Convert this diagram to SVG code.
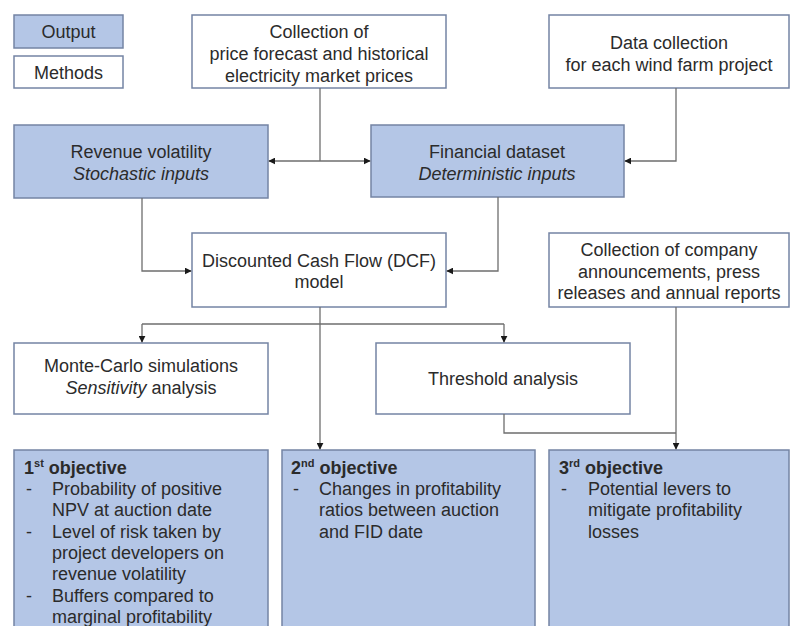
<svg xmlns="http://www.w3.org/2000/svg" width="790" height="626" viewBox="0 0 790 626">
<defs>
<style>
.out{fill:#b4c6e6;stroke:#7484a4;stroke-width:1.5}
.met{fill:#ffffff;stroke:#7484a4;stroke-width:1.5}
text{font-family:"Liberation Sans",Arial,sans-serif;font-size:18px;fill:#2b2b2b}
.c{text-anchor:middle}
.b{font-weight:bold}
.conn{fill:none;stroke:#6e6e6e;stroke-width:1.3}
</style>
<marker id="ah" viewBox="0 0 10 10" refX="9" refY="5" markerWidth="7" markerHeight="7" orient="auto" markerUnits="userSpaceOnUse">
<path d="M0,0 L10,5 L0,10 z" fill="#1a1a1a"/>
</marker>
</defs>
<rect width="790" height="626" fill="#ffffff"/>
<g id="legend-output"><rect class="out" x="14" y="15" width="109" height="33"/><text class="c" x="68.5" y="38">Output</text></g>
<g id="legend-methods"><rect class="met" x="14" y="56" width="109" height="32"/><text class="c" x="68.5" y="79">Methods</text></g>
<g id="price-collection"><rect class="met" x="192" y="15" width="254" height="73"/><text class="c" x="319" y="38">Collection of</text><text class="c" x="319" y="60">price forecast and historical</text><text class="c" x="319" y="82">electricity market prices</text></g>
<g id="data-collection"><rect class="met" x="549" y="15" width="240" height="73"/><text class="c" x="669" y="49">Data collection</text><text class="c" x="669" y="71">for each wind farm project</text></g>
<g id="revenue-volatility"><rect class="out" x="14" y="125" width="254" height="73"/><text class="c" x="141" y="158">Revenue volatility</text><text class="c" x="141" y="180" font-style="italic">Stochastic inputs</text></g>
<g id="financial-dataset"><rect class="out" x="371" y="125" width="253" height="72"/><text class="c" x="497" y="158">Financial dataset</text><text class="c" x="497" y="180" font-style="italic">Deterministic inputs</text></g>
<g id="dcf-model"><rect class="met" x="192" y="233" width="254" height="74"/><text class="c" x="319" y="267">Discounted Cash Flow (DCF)</text><text class="c" x="319" y="288">model</text></g>
<g id="company-collection"><rect class="met" x="549" y="233" width="240" height="74"/><text class="c" x="669" y="256">Collection of company</text><text class="c" x="669" y="278">announcements, press</text><text class="c" x="669" y="299">releases and annual reports</text></g>
<g id="monte-carlo"><rect class="met" x="14" y="343" width="254" height="71"/><text class="c" x="141" y="372">Monte-Carlo simulations</text><text class="c" x="141" y="394"><tspan font-style="italic">Sensitivity</tspan> analysis</text></g>
<g id="threshold"><rect class="met" x="376" y="343" width="254" height="71"/><text class="c" x="503" y="385">Threshold analysis</text></g>
<g id="objective-1"><rect class="out" x="14" y="450" width="254" height="190"/>
<text class="b" x="24" y="474">1<tspan font-size="11" dy="-7">st</tspan><tspan dy="7"> objective</tspan></text>
<text x="26" y="495">-</text><text x="52" y="495">Probability of positive</text>
<text x="52" y="516">NPV at auction date</text>
<text x="26" y="538">-</text><text x="52" y="538">Level of risk taken by</text>
<text x="52" y="559">project developers on</text>
<text x="52" y="580">revenue volatility</text>
<text x="26" y="602">-</text><text x="52" y="602">Buffers compared to</text>
<text x="52" y="623">marginal profitability</text>
</g>
<g id="objective-2"><rect class="out" x="282" y="450" width="253" height="190"/>
<text class="b" x="291" y="474">2<tspan font-size="11" dy="-7">nd</tspan><tspan dy="7"> objective</tspan></text>
<text x="293" y="495">-</text><text x="319" y="495">Changes in profitability</text>
<text x="319" y="516">ratios between auction</text>
<text x="319" y="538">and FID date</text>
</g>
<g id="objective-3"><rect class="out" x="549" y="450" width="240" height="190"/>
<text class="b" x="559" y="474">3<tspan font-size="11" dy="-7">rd</tspan><tspan dy="7"> objective</tspan></text>
<text x="561" y="495">-</text><text x="588" y="495">Potential levers to</text>
<text x="588" y="516">mitigate profitability</text>
<text x="588" y="538">losses</text>
</g>
<g id="connectors">
<path class="conn" d="M320,88 V161"/>
<path class="conn" d="M320,161 H269" marker-end="url(#ah)"/>
<path class="conn" d="M320,161 H370" marker-end="url(#ah)"/>
<path class="conn" d="M676,88 V161 H625" marker-end="url(#ah)"/>
<path class="conn" d="M142,198 V271 H191" marker-end="url(#ah)"/>
<path class="conn" d="M498,197 V271 H447" marker-end="url(#ah)"/>
<path class="conn" d="M320,307 V449" marker-end="url(#ah)"/>
<path class="conn" d="M142,324 H504"/>
<path class="conn" d="M142,324 V342" marker-end="url(#ah)"/>
<path class="conn" d="M504,324 V342" marker-end="url(#ah)"/>
<path class="conn" d="M504,414 V433 H676"/>
<path class="conn" d="M676,307 V449" marker-end="url(#ah)"/>
</g>
</svg>
